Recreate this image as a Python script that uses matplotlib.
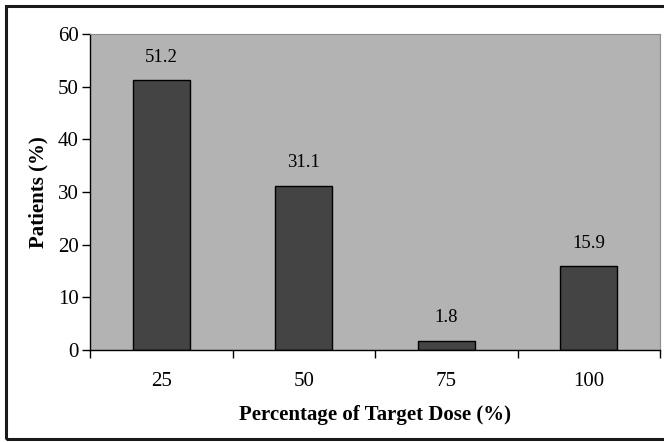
import matplotlib
matplotlib.use('Agg')
import matplotlib.pyplot as plt
from matplotlib.patches import Rectangle

categories = ['25', '50', '75', '100']
patients = [51.2, 31.1, 1.8, 15.9]
value_labels = ['51.2', '31.1', '1.8', '15.9']

plt.rcParams['font.family'] = ['Liberation Serif', 'DejaVu Serif']

fig = plt.figure(figsize=(6.64, 4.42), dpi=100)
# outer frame, right edge falls just off the picture
fig.patches.append(Rectangle((6 / 664, 3 / 442), 664 / 664, 433 / 442,
                             transform=fig.transFigure, fill=False,
                             edgecolor='#1a1a1a', linewidth=2.2))

ax = fig.add_axes([90 / 664, 92 / 442, 570 / 664, 316 / 442])
ax.set_facecolor('#b3b3b3')

x = list(range(len(categories)))
ax.bar(x, patients, width=0.4, color='#444444', edgecolor='black', linewidth=1)
for xi, v, lab in zip(x, patients, value_labels):
    ax.text(xi, v + 2.8, lab, ha='center', va='bottom', fontsize=13.5)

ax.set_xlim(-0.5, len(categories) - 0.5)
ax.set_ylim(0, 60)
ax.set_yticks([0, 10, 20, 30, 40, 50, 60])
ax.set_xticks(x)
ax.set_xticklabels(categories)
ax.set_xticks([-0.5, 0.5, 1.5, 2.5, 3.5], minor=True)
ax.tick_params(axis='x', which='major', length=0, pad=16, labelsize=15)
ax.tick_params(axis='x', which='minor', length=6, width=1, direction='out')
ax.tick_params(axis='y', length=6, width=1, direction='out', pad=2, labelsize=15)

for s in ['top', 'right']:
    ax.spines[s].set_color('#8c8c8c')
    ax.spines[s].set_linewidth(0.8)
ax.spines['left'].set_linewidth(1)
ax.spines['bottom'].set_linewidth(1)

ax.set_xlabel('Percentage of Target Dose (%)', fontsize=15, fontweight='bold', labelpad=10)
ax.set_ylabel('Patients (%)', fontsize=15, fontweight='bold', labelpad=7)

fig.savefig('out.png', dpi=100)
